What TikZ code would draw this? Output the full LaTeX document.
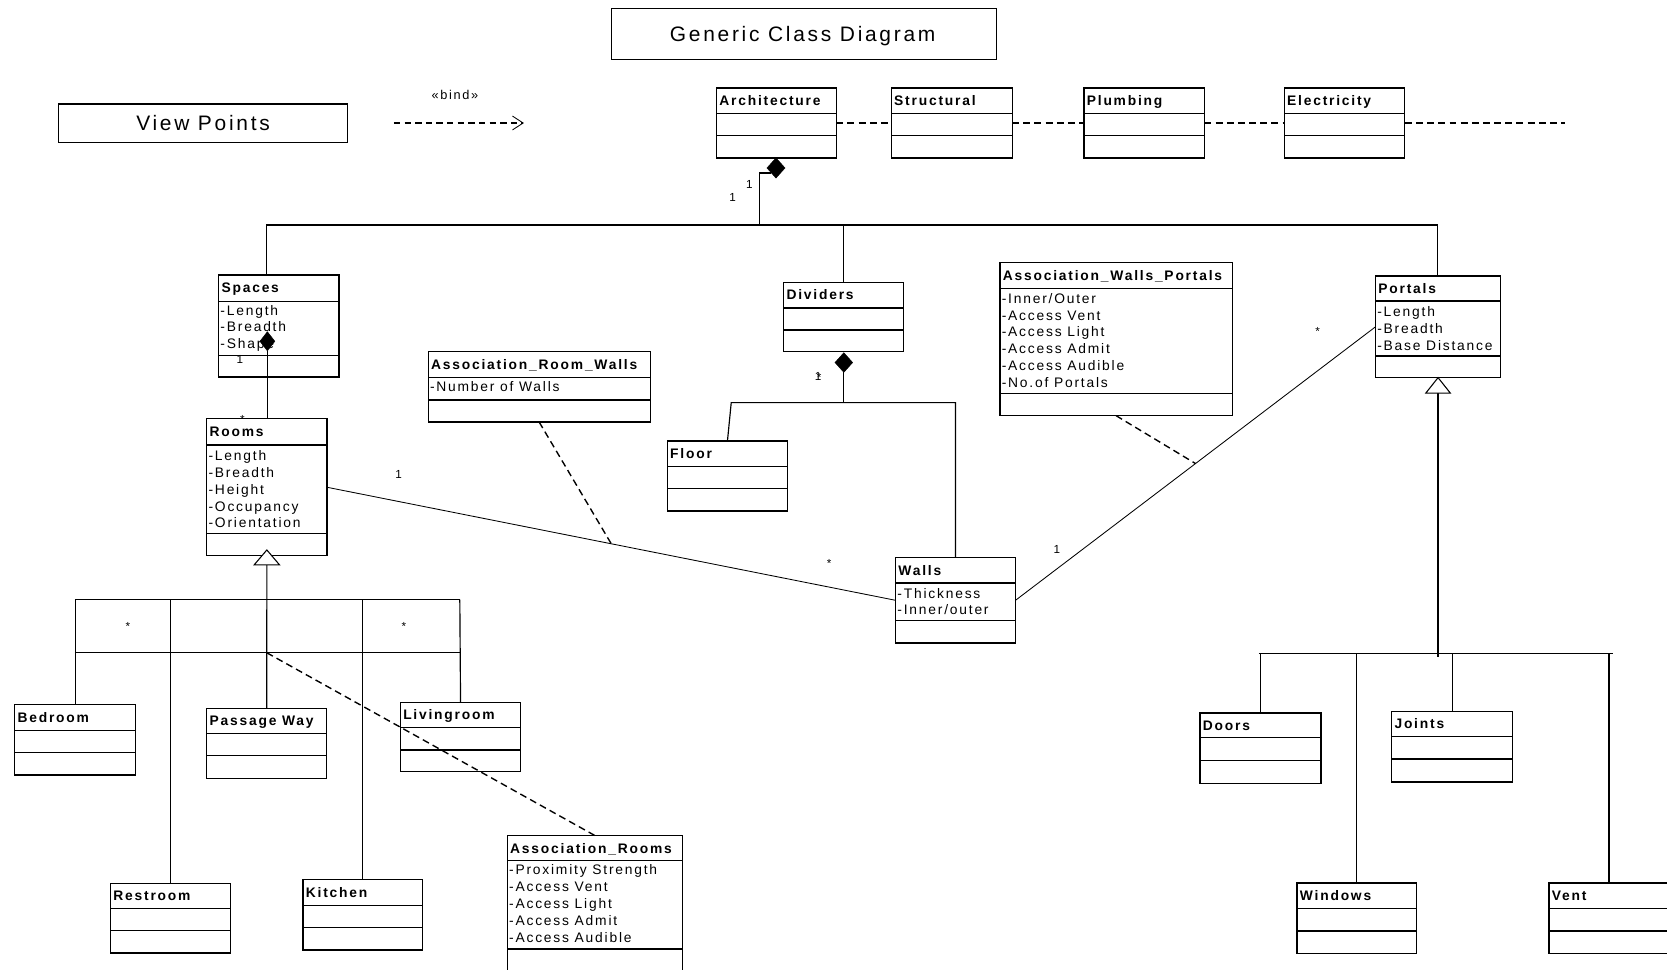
\documentclass[tikz,border=0pt]{standalone}
\usepackage{fontspec}
\setmainfont{Liberation Sans}
\newfontfamily\umlf[LetterSpace=13]{Liberation Sans}
\usetikzlibrary{shapes.geometric,arrows.meta,calc}

\tikzset{
 classbox/.style={draw, line width=1.1pt, inner sep=0pt, outer sep=0pt, anchor=north west},
 sepline/.style={line width=1.1pt},
 ctitle/.style={anchor=base west, inner sep=0pt, font={\umlf\fontsize{13}{15.8}\selectfont\bfseries}},
 cattr/.style={anchor=base west, inner sep=0pt, font={\umlf\fontsize{13}{15.8}\selectfont}},
 tree/.style={line width=1.1pt},
 assocline/.style={line width=0.8pt},
 dashline/.style={line width=1.3pt, dash pattern=on 6.5pt off 4pt},
 compo/.style={diamond, fill=black, draw=black, line width=0.4pt, inner sep=0pt, outer sep=0pt},
 gentri/.style={draw, fill=white, line width=1pt},
 mult/.style={anchor=base, inner sep=0pt, font={\fontsize{11}{13}\selectfont}},
 bigtext/.style={anchor=base, inner sep=0pt, font={\umlf\fontsize{19.7}{23}\selectfont}},
 plainbox/.style={draw, line width=1.1pt, inner sep=0pt, outer sep=0pt, anchor=north west},
}

\newcommand\umlcls[8]{%
 \node[classbox, minimum width=#4pt, minimum height=#5pt] (#1) at (#2,#3) {};
 \draw[sepline] ([yshift=-#6pt]#1.north west) -- ([yshift=-#6pt]#1.north east);
 \draw[sepline] ([yshift=-#7pt]#1.north west) -- ([yshift=-#7pt]#1.north east);
 \node[ctitle] (#1-name) at ([xshift=2.5pt,yshift=-16.5pt]#1.north west) {#8};
}
\newcommand\umlattr[3]{%
 \node[cattr] (#1-attr) at ([xshift=1.5pt,yshift=-#2pt]#1.north west) {\vtop{\baselineskip=15.8pt #3}};
}
\newcommand\attline[1]{\hbox{#1}}

\begin{document}
\begin{tikzpicture}[x=1pt,y=-1pt]
\fill[white] (0,0) rectangle (1568,912);
\useasboundingbox (0,0) rectangle (1568,912);
\clip (0,0) rectangle (1568,912);

% title and view points
\node[plainbox, minimum width=361.8pt, minimum height=48pt] (titlebox) at (575.4,7.8) {};
\node[bigtext] (titletext) at (755,39.2) {Generic Class Diagram};
\node[plainbox, minimum width=271.7pt, minimum height=36.1pt] (vpbox) at (54.8,97.8) {};
\node[bigtext] (vptext) at (191,122.3) {View Points};
\coordinate (bindA) at (370.5,115.7);
\coordinate (bindB) at (492.8,115.7);
\draw[line width=1.1pt, dash pattern=on 6pt off 4pt, -{Straight Barb[length=10pt,width=13pt,line width=0.8pt]}] (bindA) -- (bindB);
\node[anchor=base, inner sep=0pt, font={\umlf\fontsize{12}{14}\selectfont}] (bindlabel) at (428,94) {«bind»};

% classes
\umlcls{arch}{674}{82.8}{112.6}{65.8}{24}{44.8}{Architecture}
\umlcls{struct}{838.4}{82.8}{113.6}{65.8}{24}{44.8}{Structural}
\umlcls{plumb}{1019.6}{82.8}{113.3}{65.8}{24}{44.8}{Plumbing}
\umlcls{elec}{1208}{82.8}{113.4}{65.8}{24}{44.8}{Electricity}

\umlcls{spaces}{205.7}{258.7}{113.1}{95.9}{25}{76}{Spaces}
\umlattr{spaces}{37.6}{\attline{-Length}\attline{-Breadth}\attline{-Shape}}

\umlcls{rooms}{194.5}{394}{113}{128.6}{24.6}{107.5}{Rooms}
\umlattr{rooms}{39.3}{\attline{-Length}\attline{-Breadth}\attline{-Height}\attline{-Occupancy}\attline{-Orientation}}

\umlcls{arw}{402.8}{331}{208.7}{66}{23.9}{45.2}{Association\_Room\_Walls}
\umlattr{arw}{37.4}{\attline{-Number of Walls}}

\umlcls{dividers}{737.1}{265.5}{113.1}{65.5}{24.2}{44.9}{Dividers}
\umlcls{floor}{627.7}{414.8}{113.1}{65.8}{24.1}{44.8}{Floor}

\umlcls{awp}{940.6}{247}{218.4}{144}{24.2}{123.3}{Association\_Walls\_Portals}
\umlattr{awp}{38.3}{\attline{-Inner/Outer}\attline{-Access Vent}\attline{-Access Light}\attline{-Access Admit}\attline{-Access Audible}\attline{-No.of Portals}}

\umlcls{portals}{1293.8}{259.6}{117.7}{95.6}{23.5}{75.2}{Portals}
\umlattr{portals}{38.2}{\attline{-Length}\attline{-Breadth}\attline{-Base Distance}}

\umlcls{walls}{842.4}{524.5}{112.8}{80.3}{23.9}{59.3}{Walls}
\umlattr{walls}{38}{\attline{-Thickness}\attline{-Inner/outer}}

\umlcls{bedroom}{13.8}{663}{113.8}{66}{24.2}{45}{Bedroom}
\umlcls{passage}{194.5}{666.2}{112.9}{65.8}{23.5}{44.8}{Passage Way}
\umlcls{living}{376.6}{660.6}{113.2}{65.2}{23.8}{44.8}{Livingroom}
\umlcls{restroom}{104}{830.8}{112.8}{65.6}{23.5}{44.5}{Restroom}
\umlcls{kitchen}{285}{827.4}{112.7}{66.1}{24.4}{45.1}{Kitchen}

\umlcls{arooms}{477.2}{786}{165}{130}{23.5}{106.6}{Association\_Rooms}
\umlattr{arooms}{37}{\attline{-Proximity Strength}\attline{-Access Vent}\attline{-Access Light}\attline{-Access Admit}\attline{-Access Audible}}

\umlcls{doors}{1128.7}{670.6}{113.8}{66.1}{23.4}{45.1}{Doors}
\umlcls{joints}{1309}{669}{114}{66.6}{23.9}{44.9}{Joints}
\umlcls{windows}{1220}{830.6}{112.5}{66}{23.7}{45.1}{Windows}
\umlcls{vent}{1457}{830.6}{113}{66}{23.7}{45.1}{Vent}

% view point dependencies
\coordinate (depend) at (1471.7,115.7);
\draw[dashline] (arch.east) -- (struct.west);
\draw[dashline] (struct.east) -- (plumb.west);
\draw[dashline] (plumb.east) -- (elec.west);
\draw[dashline] (elec.east) -- (depend);

% top composition tree
\coordinate (T1) at (250.8,211.6);
\coordinate (T4) at (1352,211.6);
\coordinate (archdrop) at (714.2,211.6);
\draw[tree] (spaces.north -| T1) -- (T1) -- (T4) -- (portals.north -| T4);
\draw[tree] (dividers.north) -- (dividers.north |- T1);
\node[compo, minimum width=17pt, minimum height=19pt] (archdia) at (729.9,158) {};
\draw[tree] (archdrop) |- (archdia.south west);

% spaces -> rooms composition
\node[compo, minimum width=14pt, minimum height=18pt] (sdia) at (251.5,321) {};
\draw[tree] (sdia.south) -- (sdia.south |- rooms.north);

% dividers composition
\node[compo, minimum width=16.6pt, minimum height=18.5pt] (ddia) at (793.7,341) {};
\coordinate (dj) at (793.7,378.7);
\coordinate (dL) at (687.8,378.7);
\coordinate (dR) at (walls.north |- dj);
\draw[tree] (ddia.south) -- (dj);
\draw[tree] (floor.north) -- (dL) -- (dR) -- (walls.north);

% rooms generalization
\coordinate (rtri) at (251,517.3);
\coordinate (rtb) at (251,531.3);
\coordinate (g1) at (70.5,564);
\coordinate (g2) at (432.5,564);
\coordinate (g3) at (70.5,614);
\coordinate (g4) at (432.5,614);
\draw[tree] (rtb) -- (passage.north);
\draw[tree] (g1) -- (g2);
\draw[tree] (g3) -- (g4);
\draw[tree] (bedroom.north) -- (bedroom.north |- g1);
\draw[tree] (restroom.north) -- (restroom.north |- g1);
\draw[tree] (kitchen.north) -- (kitchen.north |- g1);
\draw[tree] (living.north) -- (g2);
\draw[gentri] (rtri) -- ++(-11.9,14) -- ++(23.8,0) -- cycle;
\draw[dashline] (passage.north |- g3) -- (arooms.north);

% associations
\draw[assocline] (rooms.east) -- (walls.west) coordinate[pos=0.5] (rwmid);
\draw[dashline] (arw.south) -- (rwmid);
\draw[assocline] (walls.east) -- (portals.west) coordinate[pos=0.5] (wpmid);
\draw[dashline] (awp.south) -- (wpmid);

% portals generalization
\coordinate (ptb) at ($(portals.south)+(0,14.5)$);
\coordinate (pj) at (1352.65,618);
\coordinate (pL) at (1184,615);
\coordinate (pR) at (1517,615);
\draw[tree] (ptb) -- (ptb |- pj);
\draw[tree] (pL) -- (pR);
\draw[tree] (doors.north) -- (doors.north |- pL);
\draw[tree] (windows.north) -- (windows.north |- pL);
\draw[tree] (joints.north) -- (joints.north |- pL);
\draw[tree] (vent.north) -- (vent.north |- pL);
\draw[gentri] (portals.south) -- ++(-11.5,14.5) -- ++(23,0) -- cycle;

% multiplicities
\node[mult] (m1) at (704.8,177) {1};
\node[mult] (m2) at (689,189.5) {1};
\node[mult] (m3) at (225.7,342) {1};
\node[mult] (m4) at (228,398) {*};
\node[mult] (m5) at (375,450) {1};
\node[mult] (m6) at (780,534) {*};
\node[mult] (m7) at (769.5,358.2) {1};
\node[mult] (m7b) at (770.5,359) {*};
\node[mult] (m8) at (994.2,520.3) {1};
\node[mult] (m9) at (1239.4,315.5) {*};
\node[mult] (m10) at (120.3,593.5) {*};
\node[mult] (m11) at (380,593.5) {*};
\end{tikzpicture}
\end{document}
